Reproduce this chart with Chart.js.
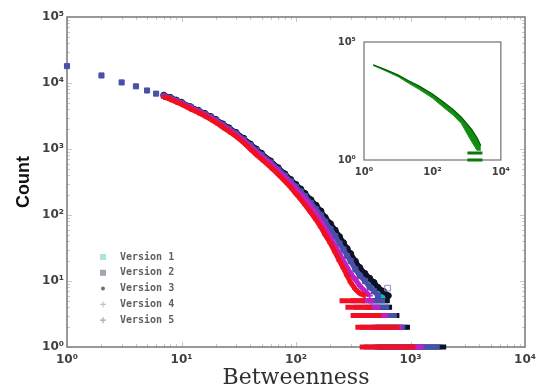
<!DOCTYPE html>
<html><head><meta charset="utf-8">
<script src="https://cdn.jsdelivr.net/npm/chart.js@4/dist/chart.umd.min.js"></script>
<style>
html,body{margin:0;padding:0;background:#fff;}
#wrap{position:relative;width:542px;height:391px;overflow:hidden;}
#main{position:absolute;left:0;top:0;width:542px;height:391px;}
#inset{position:absolute;left:330px;top:28px;width:186px;height:152px;}
</style></head><body>
<div id="wrap">
<canvas id="main" width="542" height="391"></canvas>
<canvas id="inset" width="186" height="152"></canvas>
</div>
<script>
// ---------- data ----------
const VERSION_NAMES = ['Version 1','Version 2','Version 3','Version 4','Version 5'];
const X_TICKS = [1,10,100,1000,10000];
const Y_TICKS = [1,10,100,1000,10000,100000];
const INSET_X_TICKS = [1,100,10000];
const INSET_Y_TICKS = [1,100000];

// isolated points at small betweenness (Version 2 markers)
const HEAD_X = [1,2,3,4,5,6];
const HEAD_Y = [18000,13000,10200,8900,7700,6900];

const CURVE_X = [7,8,9,10,12,14,16,18,20,23,26,30,35,40,45,50,60,70,80,90,100,110,120,135,150,165,180,200,220,240,260,280,300,330,360,400,440,480,520,580,640];
const V1_Y = [6500,6000,5470,5050,4340,3830,3420,3060,2760,2360,2050,1750,1420,1160,975,835,640,505,408,333,278,236,201,160,130,106,85,67,53,42,34,27,22,17,14,11,9,8,7,6,null];
const V2_Y = [6400,5950,5420,5000,4300,3800,3390,3030,2730,2330,2020,1720,1390,1140,950,815,625,490,395,322,268,226,192,152,122,99,79,61,48,37,30,24,20,15,12,10,8,7,6,null,null];
const V3_Y = [6550,6050,5520,5100,4380,3870,3460,3100,2800,2400,2090,1780,1450,1190,1000,860,660,520,420,345,290,248,212,170,140,115,92,74,59,47,38,31,26,20,16,13,11,9.5,8,7,6];
const V4_Y = [6300,5800,5300,4900,4200,3700,3300,2950,2650,2250,1950,1650,1330,1080,900,770,590,460,370,300,245,205,172,135,105,82,63,45,34,26,20,16,13,10.5,8.5,7,6,null,null,null,null];
const V5_Y = [6150,5650,5150,4750,4050,3560,3160,2820,2520,2130,1840,1550,1240,995,820,700,530,410,325,262,208,172,142,108,84,65,50,37,27,20,15.5,12,9.5,7.5,6.5,6,null,null,null,null,null];

// integer-count rows at the tail: betweenness range occupied at each count
const ROW_COUNTS = [5,4,3,2,1];
const V1_ROW_MIN = [420,440,460,480,500];
const V1_ROW_MAX = [640,680,780,950,1900];
const V2_ROW_MIN = [380,400,430,460,480];
const V2_ROW_MAX = [600,650,760,900,1800];
const V3_ROW_MIN = [430,450,470,500,520];
const V3_ROW_MAX = [660,690,800,990,2050];
const V4_ROW_MIN = [300,320,340,360,390];
const V4_ROW_MAX = [480,540,640,850,1300];
const V5_ROW_MIN = [240,270,300,330,360];
const V5_ROW_MAX = [400,460,560,800,1100];

const V2_OUTLIER_X = [630];
const V2_OUTLIER_Y = [7.8];

// inset (green) band: upper and lower edges
const INSET_X = [1.85,3,5,10,20,40,100,200,400,700,1000,1400,2000,2600];
const INSET_UPPER = [10800,8200,6100,3950,2300,1380,620,300,140,65,36,20,9,4];
const INSET_LOWER = [10200,7500,5400,3350,1800,1000,420,180,80,35,14,6,2.6,2.6];
const INSET_ROW_COUNTS = [2,1];
const INSET_ROW_MIN = [1050,1050];
const INSET_ROW_MAX = [2900,2900];

// ---------- styling ----------
const COLORS = ['#00c0c0','#4850a8','#101028','#c020c8','#f01020'];
const STYLES = ['rect','rect','circle','cross','cross'];
const ORDERS = [4,2,3,1,0];
const LEGEND_COLORS = ['#aee4dc','#a4a4b4','#707078','#c4c4cc','#a8a8b0'];
const SUP = ['\u2070','\u00b9','\u00b2','\u00b3','\u2074','\u2075'];
const fmt = v => '10' + SUP[Math.round(Math.log10(v))];

const YS = [V1_Y,V2_Y,V3_Y,V4_Y,V5_Y];
const RMIN = [V1_ROW_MIN,V2_ROW_MIN,V3_ROW_MIN,V4_ROW_MIN,V5_ROW_MIN];
const RMAX = [V1_ROW_MAX,V2_ROW_MAX,V3_ROW_MAX,V4_ROW_MAX,V5_ROW_MAX];

function rowData(counts, mins, maxs){
  const out = [];
  counts.forEach((c,k)=>{ out.push({x:mins[k],y:c},{x:maxs[k],y:c},{x:maxs[k],y:null}); });
  return out;
}

const datasets = [];
VERSION_NAMES.forEach((name,i)=>{
  let pts = [];
  if (i === 1) HEAD_X.forEach((x,k)=>pts.push({x, y:HEAD_Y[k]}));
  CURVE_X.forEach((x,k)=>{ if (YS[i][k] !== null) pts.push({x, y:YS[i][k]}); });
  const col = COLORS[i];
  datasets.push({
    label: name, data: pts, order: ORDERS[i], clip: false,
    showLine: true, borderColor: col, backgroundColor: col, borderWidth: 5,
    pointStyle: STYLES[i], pointRadius: i===1 ? 3.6 : 3, pointBorderWidth: STYLES[i]==='cross' ? 1.6 : 1,
    pointBackgroundColor: col, pointBorderColor: col,
    segment: { borderColor: ctx => ctx.p0.parsed.x < 6.5 ? 'rgba(0,0,0,0)' : col }
  });
});
VERSION_NAMES.forEach((name,i)=>{
  datasets.push({
    label: name + ' tail', data: rowData(ROW_COUNTS, RMIN[i], RMAX[i]), order: ORDERS[i], clip: false,
    showLine: true, spanGaps: false, borderColor: COLORS[i], borderWidth: 5, borderCapStyle: 'butt', pointRadius: 0
  });
});
datasets.push({
  label: 'outlier', data: V2_OUTLIER_X.map((x,k)=>({x, y:V2_OUTLIER_Y[k]})), order: 2,
  showLine: false, pointStyle: 'rect', pointRadius: 4, pointBorderColor: '#8890c0', pointBackgroundColor: 'rgba(255,255,255,0)', pointBorderWidth: 1
});

// ---------- plugins ----------
const frameTicks = {
  id: 'frameTicks',
  beforeDatasetsDraw(chart, args, o) {
    const {ctx, chartArea: a, scales: {x, y}} = chart;
    ctx.save();
    if (o.ticks) {
      ctx.lineWidth = 1; ctx.strokeStyle = o.tickColor;
      ctx.beginPath();
      const lx0 = Math.round(Math.log10(x.min)), lx1 = Math.round(Math.log10(x.max));
      for (let d = lx0; d < lx1; d++) for (let n = 1; n < 10; n++) {
        const px = Math.round(x.getPixelForValue(n * Math.pow(10,d))) + 0.5;
        const L = n === 1 ? 5 : 3;
        ctx.moveTo(px, a.bottom); ctx.lineTo(px, a.bottom - L);
        ctx.moveTo(px, a.top); ctx.lineTo(px, a.top + L);
      }
      const ly0 = Math.round(Math.log10(y.min)), ly1 = Math.round(Math.log10(y.max));
      for (let d = ly0; d < ly1; d++) for (let n = 1; n < 10; n++) {
        const py = Math.round(y.getPixelForValue(n * Math.pow(10,d))) + 0.5;
        const L = n === 1 ? 5 : 3;
        ctx.moveTo(a.left, py); ctx.lineTo(a.left + L, py);
        ctx.moveTo(a.right, py); ctx.lineTo(a.right - L, py);
      }
      ctx.stroke();
    }
    ctx.strokeStyle = o.color; ctx.lineWidth = o.width;
    ctx.strokeRect(a.left, a.top, a.right - a.left, a.bottom - a.top);
    ctx.restore();
  }
};

function drawMarker(ctx, style, x, y, color){
  ctx.save();
  ctx.fillStyle = color; ctx.strokeStyle = color; ctx.lineWidth = 1.2;
  if (style === 'rect') { ctx.fillRect(x-3, y-3, 6, 6); }
  else if (style === 'circle') { ctx.beginPath(); ctx.arc(x, y, 2, 0, Math.PI*2); ctx.fill(); }
  else { ctx.beginPath(); ctx.moveTo(x-3,y); ctx.lineTo(x+3,y); ctx.moveTo(x,y-3); ctx.lineTo(x,y+3); ctx.stroke(); }
  ctx.restore();
}

const insideLegend = {
  id: 'insideLegend',
  afterDraw(chart, args, o) {
    const ctx = chart.ctx;
    ctx.save();
    ctx.font = o.font; ctx.textBaseline = 'middle'; ctx.textAlign = 'left';
    VERSION_NAMES.forEach((name, i) => {
      const yy = o.y0 + i * o.dy;
      drawMarker(ctx, STYLES[i], o.mx, yy, LEGEND_COLORS[i]);
      ctx.fillStyle = o.textColor;
      ctx.fillText(name, o.tx, yy);
    });
    ctx.restore();
  }
};

const tickFont = {family: 'DejaVu Sans', size: 12, weight: 'bold'};

new Chart(document.getElementById('main'), {
  type: 'line',
  data: { datasets },
  options: {
    responsive: false, animation: false, devicePixelRatio: 1, events: [],
    layout: { padding: {top: 17, right: 16, left: 0, bottom: 0} },
    scales: {
      x: {
        type: 'logarithmic', min: 1, max: 10000,
        afterBuildTicks: s => { s.ticks = X_TICKS.map(v => ({value: v})); },
        afterFit: s => { s.height = 44; },
        grid: {display: false, drawTicks: false}, border: {display: false},
        ticks: {callback: v => fmt(v), font: tickFont, color: '#404040', padding: 6, maxRotation: 0, autoSkip: false},
        title: {display: true, text: 'Betweenness', font: {family: 'DejaVu Serif', size: 22}, color: '#303030', padding: {top: 0, bottom: 0}}
      },
      y: {
        type: 'logarithmic', min: 1, max: 100000,
        afterBuildTicks: s => { s.ticks = Y_TICKS.map(v => ({value: v})); },
        afterFit: s => { s.width = 67; },
        grid: {display: false, drawTicks: false}, border: {display: false},
        ticks: {callback: v => fmt(v), font: tickFont, color: '#404040', padding: 3, autoSkip: false},
        title: {display: true, text: 'Count', font: {family: 'Liberation Sans', size: 18, weight: 'bold'}, color: '#111', padding: {top: 13, bottom: 0}}
      }
    },
    plugins: {
      legend: {display: false}, tooltip: {enabled: false},
      frameTicks: {color: '#808080', width: 1.6, ticks: true, tickColor: '#c8c8c8'},
      insideLegend: {font: 'bold 10px "DejaVu Sans Mono"', textColor: '#606060', mx: 103, tx: 120, y0: 257, dy: 15.8}
    }
  },
  plugins: [frameTicks, insideLegend]
});

// ---------- inset ----------
const insetSets = [
  {label: 'upper', data: INSET_X.map((x,k)=>({x, y: INSET_UPPER[k]})), borderColor: '#005a00', borderWidth: 1.2, pointRadius: 0, fill: false, clip: false},
  {label: 'lower', data: INSET_X.map((x,k)=>({x, y: INSET_LOWER[k]})), borderColor: '#1a9a1a', borderWidth: 1, pointRadius: 0, fill: 0, backgroundColor: '#138a13', clip: false},
  {label: 'rows', data: rowData(INSET_ROW_COUNTS, INSET_ROW_MIN, INSET_ROW_MAX), borderColor: '#0a7a0a', borderWidth: 3, borderCapStyle: 'butt', pointRadius: 0, spanGaps: false, fill: false, clip: false}
];
const insetFont = {family: 'DejaVu Sans', size: 10, weight: 'bold'};
new Chart(document.getElementById('inset'), {
  type: 'line',
  data: { datasets: insetSets },
  options: {
    responsive: false, animation: false, devicePixelRatio: 1, events: [],
    layout: { padding: {top: 11, right: 12, left: 0, bottom: 0} },
    scales: {
      x: {
        type: 'logarithmic', min: 1, max: 10000,
        afterBuildTicks: s => { s.ticks = INSET_X_TICKS.map(v => ({value: v})); },
        afterFit: s => { s.height = 20; },
        grid: {display: false, drawTicks: false}, border: {display: false},
        ticks: {callback: v => fmt(v), font: insetFont, color: '#404040', padding: 6, maxRotation: 0, autoSkip: false}
      },
      y: {
        type: 'logarithmic', min: 1, max: 100000,
        afterBuildTicks: s => { s.ticks = INSET_Y_TICKS.map(v => ({value: v})); },
        afterFit: s => { s.width = 34; },
        grid: {display: false, drawTicks: false}, border: {display: false},
        ticks: {callback: v => fmt(v), font: insetFont, color: '#404040', padding: 8, autoSkip: false}
      }
    },
    plugins: {
      legend: {display: false}, tooltip: {enabled: false},
      frameTicks: {color: '#707070', width: 1.2, ticks: false}
    }
  },
  plugins: [frameTicks]
});
</script>
</body></html>
